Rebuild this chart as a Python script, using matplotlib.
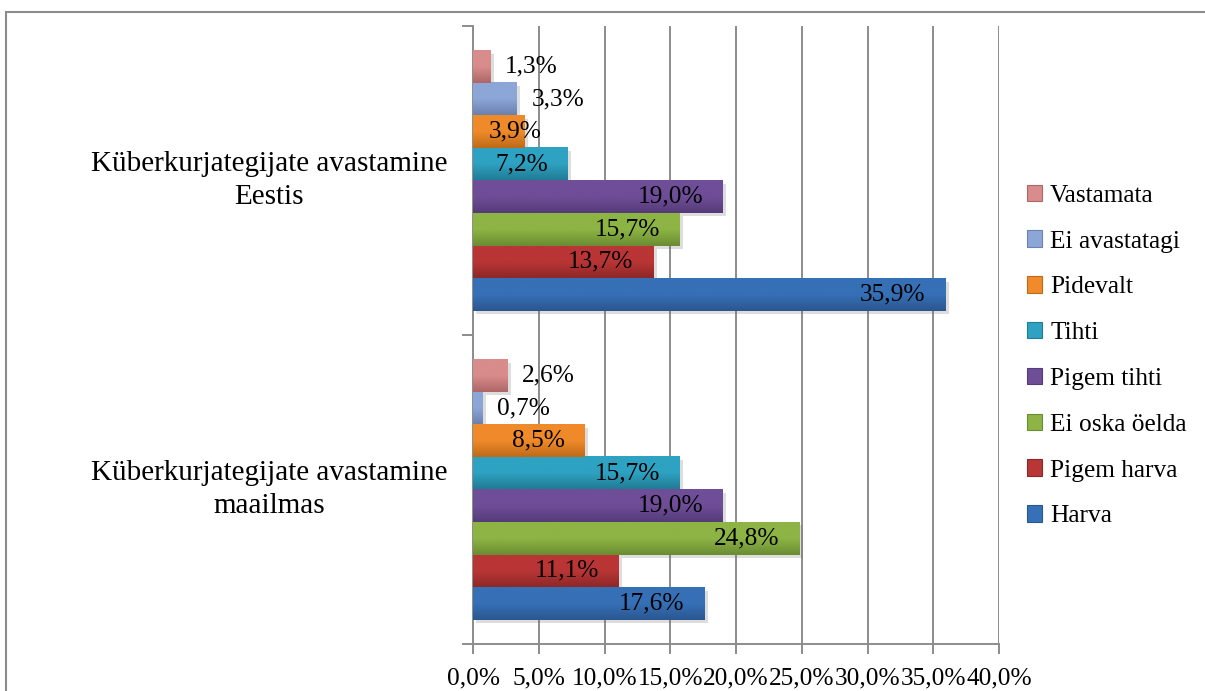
import numpy as np
import matplotlib
matplotlib.use('Agg')
import matplotlib.pyplot as plt
import matplotlib.patheffects as pe
from matplotlib.colors import LinearSegmentedColormap
from matplotlib.patches import Rectangle, Patch
from matplotlib.ticker import FuncFormatter, MultipleLocator

plt.rcParams['font.family'] = ['Liberation Serif', 'DejaVu Serif']

# ── Data ──────────────────────────────────────────────────────────────────────
categories = ['Küberkurjategijate avastamine\nmaailmas',
              'Küberkurjategijate avastamine\nEestis']
series = ['Harva', 'Pigem harva', 'Ei oska öelda', 'Pigem tihti',
          'Tihti', 'Pidevalt', 'Ei avastatagi', 'Vastamata']
values_maailmas = [17.6, 11.1, 24.8, 19.0, 15.7, 8.5, 0.7, 2.6]
values_eestis = [35.9, 13.7, 15.7, 19.0, 7.2, 3.9, 3.3, 1.3]

# (top colour, bottom colour) for the Excel-like gradient
colors_top = ['#3670B6', '#BA3535', '#8DB444', '#6F4E98',
              '#2EA2C2', '#F08A2A', '#8CA6D8', '#D98C8C']
colors_bot = ['#2B5690', '#8E2828', '#6B8C33', '#553B78',
              '#217C95', '#BF6A18', '#6A82AE', '#AE6666']

values = np.array([values_maailmas, values_eestis])  # [category, series]

# ── Figure ────────────────────────────────────────────────────────────────────
fig = plt.figure(figsize=(12.05, 6.91), dpi=100)
ax = fig.add_axes([473 / 1205, 47 / 691, 526 / 1205, 618 / 691])

GRID = '#8C8C8C'
FS = 18.3      # ticks, data labels, legend
FS_CAT = 21    # category labels
n = len(series)
h = 1 / 9.5
ypos = np.arange(len(categories))

shadow = [pe.SimplePatchShadow(offset=(2.5, -2.5), alpha=0.22, shadow_rgbFace='#666666'),
          pe.Normal()]

for i, name in enumerate(series):
    y = ypos + (i - (n - 1) / 2) * h
    bars = ax.barh(y, values[:, i], height=h, color=colors_bot[i],
                   zorder=3, path_effects=shadow)
    cmap = LinearSegmentedColormap.from_list(name, [colors_bot[i], colors_top[i], colors_top[i]])
    for rect, v in zip(bars, values[:, i]):
        x0, y0 = rect.get_x(), rect.get_y()
        w, hh = rect.get_width(), rect.get_height()
        grad = np.linspace(0, 1, 64).reshape(-1, 1)
        ax.imshow(grad, extent=[x0, x0 + w, y0, y0 + hh], origin='lower',
                  aspect='auto', cmap=cmap, zorder=3.5, interpolation='bicubic')
        label = f'{v:.1f}%'.replace('.', ',')
        yc = y0 + hh / 2
        if v < 3.6:
            ax.text(v + 1.15, yc, label, ha='left', va='center',
                    fontsize=FS, zorder=5)
        elif v < 6.7:
            ax.text(1.2, yc, label, ha='left', va='center',
                    fontsize=FS, zorder=5)
        else:
            ax.text(v - 1.5, yc, label, ha='right', va='center',
                    fontsize=FS, zorder=5)

ax.set_xlim(0, 40)
ax.set_ylim(-0.5, 1.5)
ax.xaxis.set_major_locator(MultipleLocator(5))
ax.xaxis.set_major_formatter(FuncFormatter(lambda x, _: f'{x:.1f}%'.replace('.', ',')))
ax.grid(axis='x', color=GRID, lw=1.4, zorder=0)
ax.set_axisbelow(True)

ax.set_yticks([-0.5, 0.5, 1.5])
ax.set_yticklabels([])
ax.tick_params(axis='y', length=8, width=1.4, color=GRID)
ax.tick_params(axis='x', length=7, width=1.4, color=GRID, labelsize=FS, pad=10)
for s in ['top', 'right']:
    ax.spines[s].set_visible(False)
for s in ['left', 'bottom']:
    ax.spines[s].set_color(GRID)
    ax.spines[s].set_linewidth(1.4)

for yc, cat in zip(ypos, categories):
    ax.text(-0.049, yc, cat, transform=ax.get_yaxis_transform(),
            ha='right', va='center', multialignment='center',
            fontsize=FS_CAT, linespacing=1.35)

# legend (top entry = last series)
handles = [Patch(facecolor=colors_top[i], edgecolor=colors_bot[i], lw=0.8)
           for i in range(n)][::-1]
fig.legend(handles, series[::-1], loc='center left',
           bbox_to_anchor=(1014 / 1205, 1 - 356 / 691), frameon=False,
           fontsize=FS, handlelength=0.62, handleheight=0.62,
           handletextpad=0.3, labelspacing=0.93, borderpad=0)

# outer chart frame
fig.patches.append(Rectangle((6 / 1205, -0.05), 1.1, 1 - 12 / 691 + 0.05,
                             transform=fig.transFigure, fill=False,
                             edgecolor=GRID, lw=1.5))

fig.savefig('out.png', dpi=100)
